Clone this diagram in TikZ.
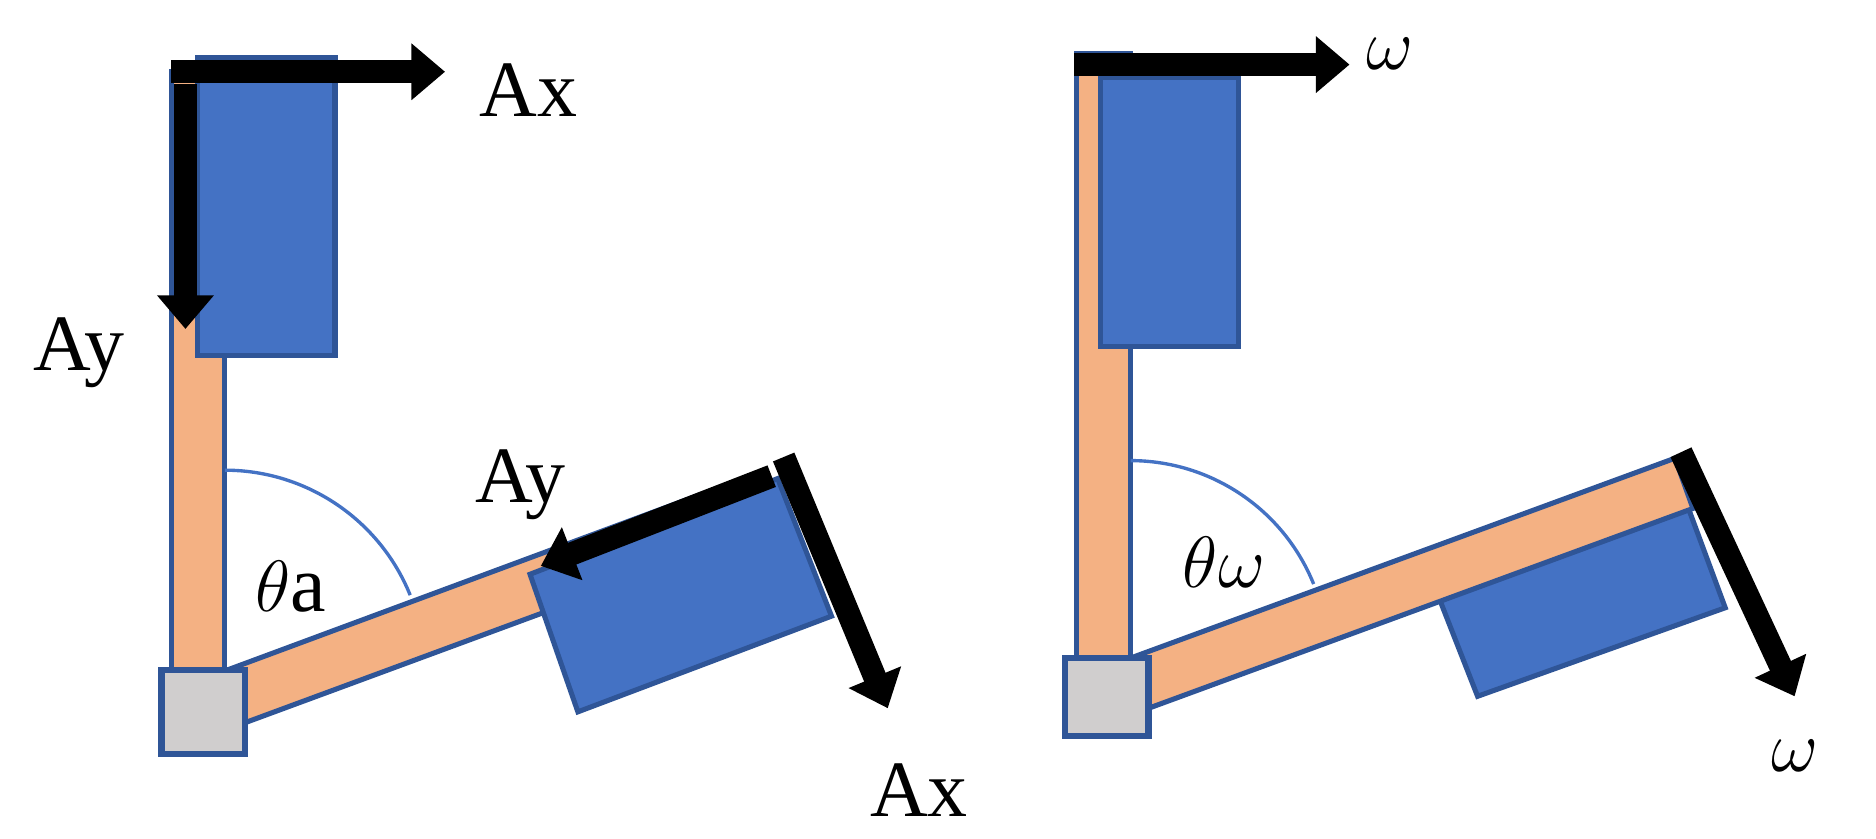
\documentclass[tikz,border=0pt]{standalone}
\usepackage{fontspec}
\setmainfont{Liberation Serif}
\usetikzlibrary{arrows.meta}
\definecolor{org}{HTML}{F4B183}
\definecolor{blu}{HTML}{4472C4}
\definecolor{edg}{HTML}{2F5597}
\definecolor{gry}{HTML}{D0CECE}
\tikzset{
 barst/.style={fill=org,draw=edg,line width=1.2pt},
 boxst/.style={fill=blu,draw=edg,line width=1.2pt},
 pinst/.style={fill=gry,draw=edg,line width=1.5pt},
 force/.style={line width=5.5pt,-{Triangle[length=8pt,width=13pt]}},
 lbl/.style={font=\fontsize{19}{22}\selectfont,inner sep=0pt},
 arcst/.style={draw=blu,line width=0.8pt}
}
\begin{document}
\begin{tikzpicture}[x=0.01cm,y=-0.01cm]
% ---- left
\draw[barst] (143,60) rectangle (188,562);
\draw[boxst] (165,48) rectangle (280,297);
\draw[barst] (190,560) -- (600,408) -- (617,452) -- (205,604) -- cycle;
\draw[arcst] (188,393) arc[start angle=-90,end angle=-22,radius=167];
\draw[pinst] (135,560) rectangle (205,630);
\draw[boxst] (443,480) -- (650,400) -- (695,515) -- (483,595) -- cycle;
\coordinate (a1) at (143,60); \coordinate (a2) at (372,60);
\draw[force] (a1) -- (a2);
\coordinate (b1) at (155,70); \coordinate (b2) at (155,275);
\draw[force] (b1) -- (b2);
\coordinate (c1) at (645,398); \coordinate (c2) at (452,473);
\draw[force] (c1) -- (c2);
\coordinate (d1) at (655,382); \coordinate (d2) at (742,592);
\draw[force] (d1) -- (d2);
\node[lbl] (ax1) at (442,75) {Ax};
\node[lbl] (ay1) at (66,295) {Ay};
\node[lbl] (ay2) at (435,405) {Ay};
\node[lbl] (ax2) at (768,660) {Ax};
\node[lbl] (th1) at (243,490) {$\theta$a};
% ---- right
\draw[barst] (900,45) rectangle (945,552);
\draw[boxst] (920,65) rectangle (1035,290);
\draw[boxst] (1195,480) -- (1402,400) -- (1442,508) -- (1235,582) -- cycle;
\draw[barst] (945,550) -- (1400,383) -- (1415,425) -- (960,592) -- cycle;
\draw[arcst] (945,385) arc[start angle=-90,end angle=-22,radius=165];
\draw[pinst] (890,550) rectangle (960,615);
\coordinate (e1) at (898,54); \coordinate (e2) at (1128,54);
\draw[force] (e1) -- (e2);
\coordinate (f1) at (1405,378); \coordinate (f2) at (1500,582);
\draw[force] (f1) -- (f2);
\node[lbl] (w1) at (1162,45) {$\omega$};
\node[lbl] (w2) at (1500,632) {$\omega$};
\node[lbl] (th2) at (1023,470) {$\theta\omega$};
\pgfresetboundingbox
\path[use as bounding box] (0,0) rectangle (1568,701);
\end{tikzpicture}
\end{document}
